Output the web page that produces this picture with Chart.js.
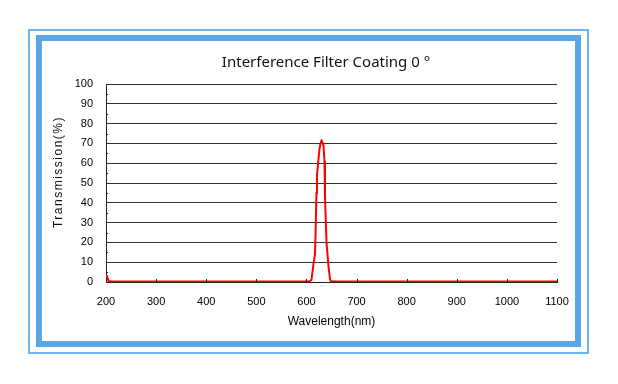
<!DOCTYPE html>
<html>
<head>
<meta charset="utf-8">
<script src="https://cdn.jsdelivr.net/npm/chart.js@4.4.1/dist/chart.umd.min.js"></script>
<style>
  html, body { margin: 0; padding: 0; background: #fff; }
  #wrap { width: 618px; height: 384px; }
</style>
</head>
<body>
<div id="wrap"><canvas id="chart" width="618" height="384"></canvas></div>
<script>
// wavelength (nm) and transmission (%)
var wavelengths = [200, 202, 205, 210, 300, 400, 500, 600, 606, 610, 614, 617, 618, 620, 621, 624, 626, 628, 630, 632, 634, 636, 637, 640, 644, 647, 649, 700, 800, 900, 1000, 1100];
var transmission = [3, 3, 0.5, 0.3, 0.3, 0.3, 0.3, 0.3, 0.3, 1, 9, 14, 22, 45, 54, 62, 67, 70, 71.4, 70.5, 69, 61, 43.5, 20, 8, 1.5, 0.3, 0.3, 0.3, 0.3, 0.3, 0.3];
var xTicks = [200, 300, 400, 500, 600, 700, 800, 900, 1000, 1100];
var yTicks = [0, 10, 20, 30, 40, 50, 60, 70, 80, 90, 100];

var titleText = 'Interference Filter Coating 0 °';
var yTitle = 'Transmission(%)';
var xTitle = 'Wavelength(nm)';

var points = wavelengths.map(function (w, i) { return { x: w, y: transmission[i] }; });

// frame + title + y title + small inner ticks
var decor = {
  id: 'decor',
  beforeDraw: function (chart) {
    var c = chart.ctx;
    c.save();
    c.fillStyle = '#fff';
    c.fillRect(0, 0, chart.width, chart.height);
    c.strokeStyle = '#6db5ec';
    c.lineWidth = 2;
    c.strokeRect(29, 30, 559, 323);
    c.strokeStyle = '#59a7e6';
    c.lineWidth = 6;
    c.strokeRect(39, 38, 539, 306);
    c.restore();
  },
  afterDraw: function (chart) {
    var c = chart.ctx;
    var xs = chart.scales.x, ys = chart.scales.y;
    c.save();
    c.fillStyle = '#111';
    c.font = '15px "Noto Sans"';
    c.textAlign = 'center';
    c.textBaseline = 'middle';
    c.fillText(titleText, 326, 63);

    c.translate(59, 172);
    c.rotate(-Math.PI / 2);
    c.font = '12px "Liberation Sans"';
    c.letterSpacing = '1.5px';
    c.fillText(yTitle, 0, 0);
    c.restore();

    c.save();
    c.strokeStyle = '#222';
    c.lineWidth = 1;
    c.beginPath();
    for (var v = 5; v < 100; v += 10) {
      var py = Math.round(ys.getPixelForValue(v)) + 0.5;
      c.moveTo(xs.left, py);
      c.lineTo(xs.left + 2, py);
    }
    xTicks.forEach(function (t) {
      var px = Math.round(xs.getPixelForValue(t)) + 0.5;
      c.moveTo(px, ys.bottom);
      c.lineTo(px, ys.bottom - 3);
    });
    c.stroke();
    c.restore();
  }
};

new Chart(document.getElementById('chart'), {
  type: 'line',
  data: {
    datasets: [{
      data: points,
      borderColor: '#ff0000',
      borderWidth: 2,
      pointRadius: 0,
      tension: 0,
      fill: false
    }]
  },
  options: {
    responsive: false,
    animation: false,
    layout: { padding: { top: 84, right: 61, bottom: 0, left: 0 } },
    plugins: { legend: { display: false }, tooltip: { enabled: false } },
    scales: {
      x: {
        type: 'linear',
        min: 200,
        max: 1100,
        afterFit: function (s) { s.height = 102; },
        afterBuildTicks: function (s) { s.ticks = xTicks.map(function (v) { return { value: v }; }); },
        grid: { display: false, drawTicks: false },
        border: { display: true, color: '#222', width: 1 },
        ticks: {
          color: '#000', padding: 13, maxRotation: 0, autoSkip: false,
          font: { family: 'Liberation Sans', size: 11 },
          callback: function (v) { return String(v); }
        },
        title: { display: true, text: xTitle, color: '#000', padding: { top: 0, bottom: 55 }, font: { family: 'Liberation Sans', size: 12 } }
      },
      y: {
        min: 0,
        max: 100,
        afterFit: function (s) { s.width = 106; },
        afterBuildTicks: function (s) { s.ticks = yTicks.map(function (v) { return { value: v }; }); },
        grid: { color: '#333', lineWidth: 1, drawTicks: false },
        border: { display: true, color: '#222', width: 1 },
        ticks: {
          color: '#000', padding: 13,
          font: { family: 'Liberation Sans', size: 11 },
          callback: function (v) { return String(v); }
        }
      }
    }
  },
  plugins: [decor]
});
</script>
</body>
</html>
